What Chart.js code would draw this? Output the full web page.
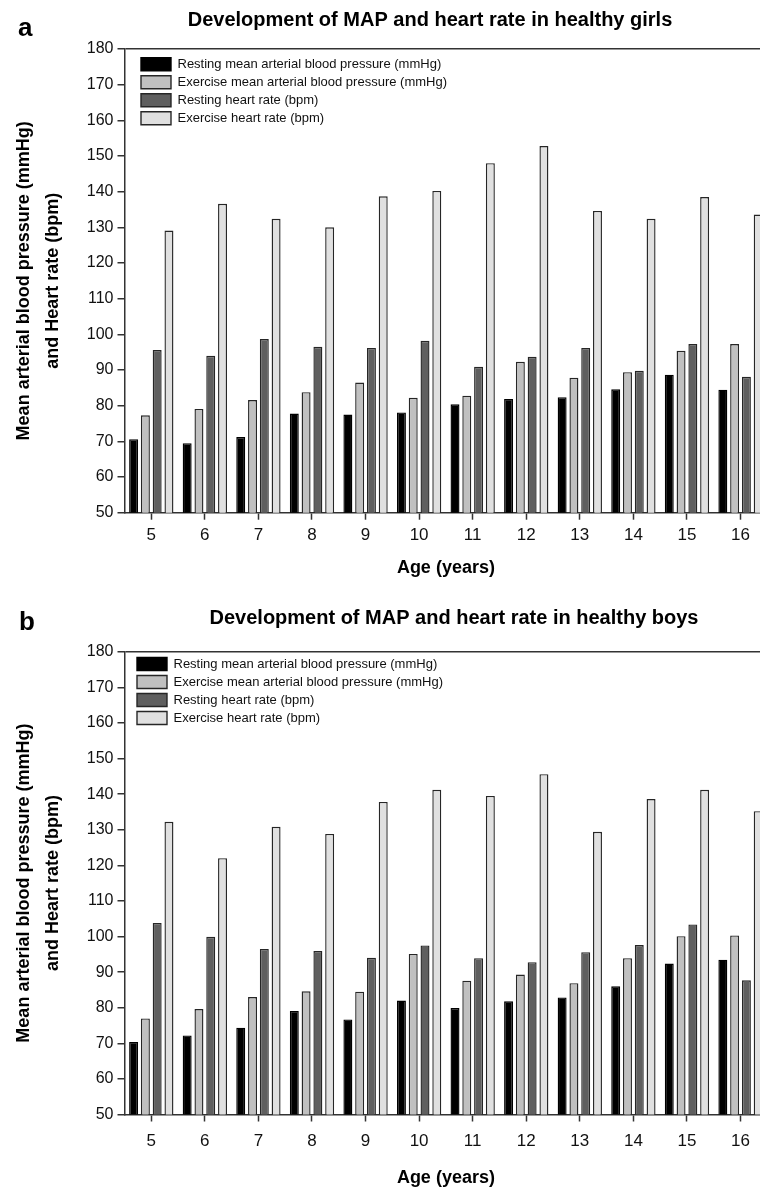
<!DOCTYPE html>
<html>
<head>
<meta charset="utf-8">
<script src="https://cdn.jsdelivr.net/npm/chart.js@4.4.1/dist/chart.umd.min.js"></script>
<style>
  html, body { margin: 0; padding: 0; background: #fff; }
  body { width: 760px; height: 1187px; overflow: hidden; position: relative; }
  .panel { position: absolute; left: 0; }
  #panelA { top: 0; }
  #panelB { top: 600px; }
</style>
</head>
<body>
<div class="panel" id="panelA"><canvas id="chartA" width="860" height="600"></canvas></div>
<div class="panel" id="panelB"><canvas id="chartB" width="860" height="600"></canvas></div>
<script>
// categories
const ages = ['5', '6', '7', '8', '9', '10', '11', '12', '13', '14', '15', '16'];
const seriesLabels = [
    'Resting mean arterial blood pressure (mmHg)',
    'Exercise mean arterial blood pressure (mmHg)',
    'Resting heart rate (bpm)',
    'Exercise heart rate (bpm)'
];

// girls (panel a)
const girlsRestMAP = [70.6, 69.5, 71.2, 77.8, 77.5, 78.1, 80.4, 81.9, 82.4, 84.6, 88.7, 84.5];
const girlsExMAP   = [77.3, 79.1, 81.6, 83.8, 86.5, 82.2, 82.8, 92.3, 87.8, 89.4, 95.4, 97.3];
const girlsRestHR  = [95.6, 94.0, 98.7, 96.5, 96.2, 98.2, 90.9, 93.7, 96.2, 89.8, 97.3, 88.1];
const girlsExHR    = [129.1, 136.6, 132.4, 130.0, 138.7, 140.2, 148.0, 152.8, 134.6, 132.4, 138.5, 133.6];

// boys (panel b)
const boysRestMAP = [70.4, 72.2, 74.4, 79.1, 76.7, 82.0, 79.9, 81.8, 82.9, 86.0, 92.4, 93.5];
const boysExMAP   = [77.0, 79.6, 83.0, 84.6, 84.5, 95.1, 87.6, 89.3, 86.9, 93.9, 100.1, 100.3];
const boysRestHR  = [103.8, 99.9, 96.5, 95.9, 94.0, 97.5, 93.9, 92.8, 95.6, 97.6, 103.4, 87.7];
const boysExHR    = [132.2, 122.0, 130.8, 128.8, 137.8, 141.2, 139.5, 145.6, 129.4, 138.6, 141.2, 135.2];

// y axis ticks
const yMin = 50;
const yMax = 180;
const yStep = 10;

const barFills = ['#000000', '#c0c0c0', '#5f5f5f', '#e0e0e0'];
const barEdges = ['#000000', '#262626', '#262626', '#262626'];
const FONT = "'Liberation Sans', Arial, Helvetica, sans-serif";

// legend drawn inside the plot, title centred on a given x, panel letter
const panelExtras = {
    id: 'panelExtras',
    afterInit(chart) {
        const lg = chart.legend;
        const fit = lg.fit;
        lg.fit = function() {
            this.maxWidth = 330;   // one entry per row
            fit.call(this);
            this.realHeight = this.height;
            this.height = 0;       // takes no room from the plot
        };
    },
    afterLayout(chart, args, opts) {
        const lg = chart.legend;
        lg.left = opts.legendX;
        lg.right = opts.legendX + 330;
        lg.top = opts.legendY;
        lg.bottom = opts.legendY + lg.realHeight;
        const t = chart.titleBlock;
        t.left = opts.titleX - 320;
        t.right = opts.titleX + 320;
    },
    afterDraw(chart, args, opts) {
        const ctx = chart.ctx;
        ctx.save();
        ctx.font = 'bold 26px ' + FONT;
        ctx.fillStyle = '#000';
        ctx.textAlign = 'left';
        ctx.textBaseline = 'alphabetic';
        ctx.fillText(opts.letter, opts.letterX, opts.letterY);
        ctx.restore();
    }
};

function drawPanel(canvasId, title, series, p) {
    return new Chart(document.getElementById(canvasId), {
        type: 'bar',
        data: {
            labels: ages,
            datasets: series.map((vals, i) => ({
                label: seriesLabels[i],
                data: vals,
                backgroundColor: barFills[i],
                borderColor: barEdges[i],
                borderWidth: 1.4,
                categoryPercentage: 0.88,
                barPercentage: 0.76
            }))
        },
        options: {
            responsive: false,
            animation: false,
            layout: { padding: { left: 0, right: 92.7, top: 0, bottom: 0 } },
            scales: {
                x: {
                    offset: true,
                    grid: { offset: false, drawOnChartArea: false, drawTicks: true, tickLength: 7, tickColor: '#333', tickWidth: 1.5 },
                    border: { display: true, color: '#333', width: 1.5 },
                    ticks: { color: '#111', font: { family: FONT, size: 17 }, padding: p.xTickPad, autoSkip: false, maxRotation: 0 },
                    title: {
                        display: true,
                        text: 'Age (years)',
                        color: '#000',
                        font: { family: FONT, size: 18, weight: 'bold' },
                        padding: { top: 0, bottom: p.xTitlePad }
                    },
                    afterFit(scale) { scale.height = p.xAxisHeight; }
                },
                y: {
                    min: yMin,
                    max: yMax,
                    ticks: { stepSize: yStep, color: '#111', font: { family: FONT, size: 16 }, padding: 4 },
                    grid: {
                        drawTicks: true,
                        tickLength: 7,
                        tickColor: '#333',
                        tickWidth: 1.5,
                        lineWidth: 1.5,
                        // only the top frame line
                        color: (ctx) => (ctx.tick && ctx.tick.value === yMax ? '#333' : 'rgba(0,0,0,0)')
                    },
                    border: { display: true, color: '#333', width: 1.5 },
                    title: {
                        display: true,
                        text: ['Mean arterial blood pressure (mmHg)', 'and Heart rate (bpm)'],
                        color: '#000',
                        font: { family: FONT, size: 18, weight: 'bold', lineHeight: 1.6 },
                        padding: { top: 9.6, bottom: 0 }
                    },
                    afterFit(scale) { scale.width = 124.5; }
                }
            },
            plugins: {
                title: {
                    display: true,
                    text: title,
                    color: '#000',
                    font: { family: FONT, size: 20, weight: 'bold', lineHeight: 1.2 },
                    padding: { top: p.titleTop, bottom: p.titleBottom }
                },
                legend: {
                    display: true,
                    position: 'top',
                    align: 'start',
                    labels: {
                        boxWidth: 30,
                        boxHeight: 13,
                        padding: 5,
                        color: '#111',
                        font: { family: FONT, size: 13 }
                    }
                },
                tooltip: { enabled: false },
                panelExtras: {
                    legendX: p.legendX,
                    legendY: p.legendY,
                    titleX: p.titleX,
                    letter: p.letter,
                    letterX: p.letterX,
                    letterY: p.letterY
                }
            }
        },
        plugins: [panelExtras]
    });
}

drawPanel('chartA', 'Development of MAP and heart rate in healthy girls',
    [girlsRestMAP, girlsExMAP, girlsRestHR, girlsExHR],
    { titleTop: 8, titleBottom: 17, titleX: 430, xAxisHeight: 87.3, xTickPad: 5, xTitlePad: 21.5,
      legendX: 136, legendY: 52.8, letter: 'a', letterX: 18, letterY: 36 });

drawPanel('chartB', 'Development of MAP and heart rate in healthy boys',
    [boysRestMAP, boysExMAP, boysRestHR, boysExHR],
    { titleTop: 6, titleBottom: 21.7, titleX: 454, xAxisHeight: 85.5, xTickPad: 10, xTitlePad: 11.5,
      legendX: 132, legendY: 52.5, letter: 'b', letterX: 19, letterY: 30 });
</script>
</body>
</html>
